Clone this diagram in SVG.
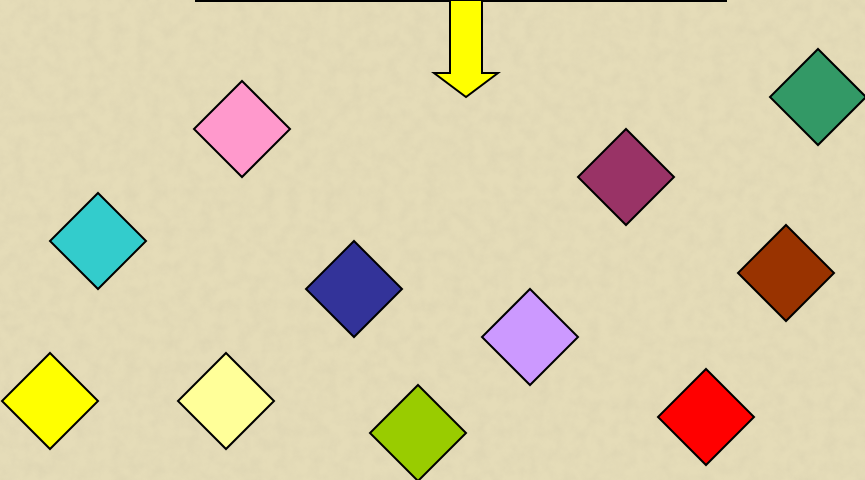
<svg xmlns="http://www.w3.org/2000/svg" width="865" height="480" viewBox="0 0 865 480">
<defs>
<filter id="tex" x="0" y="0" width="100%" height="100%">
<feTurbulence type="fractalNoise" baseFrequency="0.08" numOctaves="3" seed="4" result="n"/>
<feColorMatrix in="n" type="matrix" values="0 0 0 0 0.55  0 0 0 0 0.5  0 0 0 0 0.35  0 0 0 0.9 -0.3" result="c"/>
<feComposite in="c" in2="SourceGraphic" operator="in"/>
</filter>
<style>
.d{stroke:#000;stroke-width:2;stroke-linejoin:miter}
</style>
<path id="dia" d="M0,-48 L48,0 L0,48 L-48,0 Z"/>
</defs>
<rect width="865" height="480" fill="#E5DCB8"/>
<rect width="865" height="480" fill="#fff" filter="url(#tex)" opacity="0.35"/>
<g id="connectors">
<line x1="195" y1="1" x2="727" y2="1" stroke="#000" stroke-width="2"/>
<path d="M450,0 L482,0 L482,73 L498,73 L466,97 L434,73 L450,73 Z" fill="#FFFF00" stroke="#000" stroke-width="2"/>
</g>
<g id="pink"><use href="#dia" class="d" x="242" y="129" fill="#FF99CC"/></g>
<g id="cyan"><use href="#dia" class="d" x="98" y="241" fill="#33CCCC"/></g>
<g id="navy"><use href="#dia" class="d" x="354" y="289" fill="#333399"/></g>
<g id="plum"><use href="#dia" class="d" x="626" y="177" fill="#993366"/></g>
<g id="green"><use href="#dia" class="d" x="818" y="97" fill="#339966"/></g>
<g id="brown"><use href="#dia" class="d" x="786" y="273" fill="#993300"/></g>
<g id="lavender"><use href="#dia" class="d" x="530" y="337" fill="#CC99FF"/></g>
<g id="yellow"><use href="#dia" class="d" x="50" y="401" fill="#FFFF00"/></g>
<g id="lightyellow"><use href="#dia" class="d" x="226" y="401" fill="#FFFF99"/></g>
<g id="lime"><use href="#dia" class="d" x="418" y="433" fill="#99CC00"/></g>
<g id="red"><use href="#dia" class="d" x="706" y="417" fill="#FF0000"/></g>
</svg>
